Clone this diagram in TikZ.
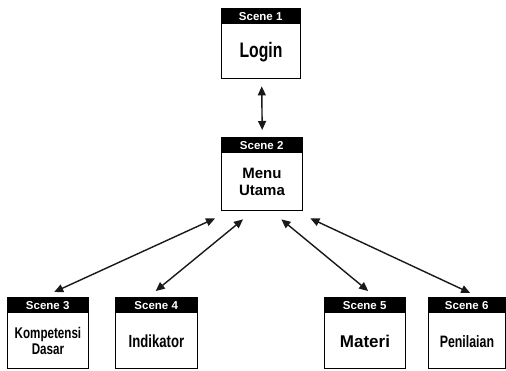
\documentclass[tikz,border=0pt]{standalone}
\usepackage{fontspec}
\setmainfont{Liberation Sans}
\newfontfamily\narrowsans{Liberation Sans}[FakeStretch=0.75]
\usetikzlibrary{arrows.meta,calc}

\tikzset{
  frame/.style={draw=black, line width=1.4pt, fill=white, inner sep=0pt, anchor=north west},
  head/.style={fill=black, text=white, inner sep=0pt, anchor=north west,
    font=\bfseries\fontsize{11.5}{12}\selectfont},
  lbl/.style={inner sep=0pt, align=center, text=black},
  wide/.style={lbl, font=\bfseries\fontsize{#1}{17}\selectfont},
  slim/.style={lbl, font=\narrowsans\bfseries\fontsize{#1}{16}\selectfont},
  link/.style={line width=1.4pt, black!90,
    {Triangle[length=9pt,width=8pt]}-{Triangle[length=9pt,width=8pt]}}
}

% #1 name, #2 left, #3 top, #4 width, #5 height, #6 title, #7 text style, #8 text
\newcommand\scenebox[8]{%
  \node[frame, minimum width=#4pt, minimum height=#5pt] (#1) at (#2,#3) {};
  \node[head, minimum width=#4pt, minimum height=16pt] (#1h) at (#1.north west) {#6};
  \node[#7] (#1t) at ($(#1h.south)!0.5!(#1.south)$) {#8};
}

\begin{document}
\begin{tikzpicture}[x=1pt,y=-1pt]
  \fill[white] (0,0) rectangle (506,371);
  \useasboundingbox (0,0) rectangle (506,371);

  \scenebox{s1}{221}{8}{79}{70}{Scene 1}{slim=21}{Login}
  \scenebox{s2}{221}{137}{81}{73}{Scene 2}{wide=15}{Menu\\Utama}
  \scenebox{s3}{7}{297}{81}{71}{Scene 3}{slim=15.5}{Kompetensi\\Dasar}
  \scenebox{s4}{115}{297}{82}{71}{Scene 4}{slim=17.5}{Indikator}
  \scenebox{s5}{324}{297}{81}{71}{Scene 5}{wide=17}{Materi}
  \scenebox{s6}{428}{297}{77}{71}{Scene 6}{slim=16.5}{Penilaian}

  % navigation between scenes
  \draw[link] ($(s1.south)+(0.5,7)$) -- ($(s2.north)+(0,-7)$);
  \draw[link] ($(s2.south west)+(-6,7)$) -- ($(s3.north)+(6,-5)$);
  \draw[link] ($(s2.south west)+(22,8)$) -- ($(s4.north)+(-1,-6)$);
  \draw[link] ($(s2.south east)+(-22,8)$) -- ($(s5.north)+(3,-6)$);
  \draw[link] ($(s2.south east)+(7,7)$) -- ($(s6.north)+(3,-4)$);
\end{tikzpicture}
\end{document}
